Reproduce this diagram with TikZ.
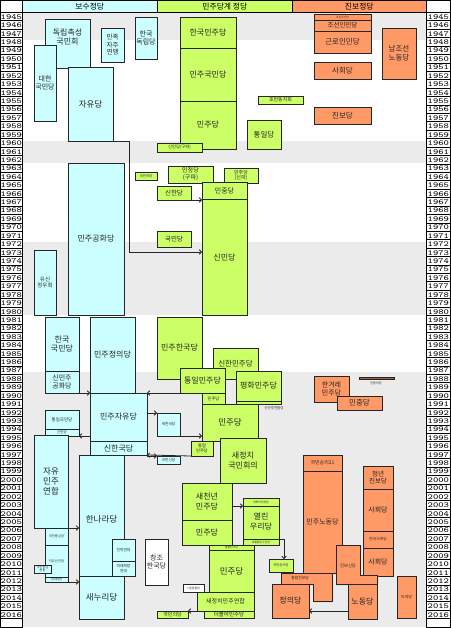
\documentclass[tikz,border=0pt]{standalone}
\usepackage{fontspec}
\setmainfont{Noto Sans CJK KR}
\newfontfamily\yearfont[FakeStretch=1.3]{Latin Modern Mono}
\usetikzlibrary{arrows.meta,shadows,calc}
\definecolor{cyanc}{HTML}{CCFFFF}
\definecolor{greenc}{HTML}{CCFF66}
\definecolor{orangec}{HTML}{FF9966}
\definecolor{bgg}{HTML}{EBEBEB}
\definecolor{brownc}{HTML}{A0603C}
\tikzset{
 pb/.style={draw=black!85, line width=0.8pt, inner sep=0pt, outer sep=0pt,
   drop shadow={shadow xshift=1pt, shadow yshift=-1pt, fill=black!40, opacity=1}},
 C/.style={pb, fill=cyanc}, G/.style={pb, fill=greenc}, O/.style={pb, fill=orangec},
 W/.style={pb, fill=white}, Bn/.style={pb, fill=brownc},
 tx/.style={inner sep=0pt, align=center, text=black!85},
 conn/.style={draw=black!85, line width=0.8pt, -{Straight Barb[length=2.2pt,width=4.5pt]}},
 hdr/.style={draw=black, line width=0.6pt, inner sep=0pt, anchor=north west, font=\fontsize{7.8}{8}\selectfont},
 ycell/.style={draw=black, line width=0.6pt, fill=white, inner sep=0pt, anchor=north west, minimum width=22, minimum height=8.42},
 ytext/.style={anchor=base west, inner sep=0pt, font=\yearfont\fontsize{7.7}{7.7}\selectfont},
}
% [text y offset]{name}{style}{font size}{x1}{y1}{x2}{y2}{text}
\newcommand\B[9][0]{%
 \node[#3, anchor=north west, minimum width={#7-#5}, minimum height={#8-#6}] (#2) at (#5,#6) {};
 \node[tx, font=\fontsize{#4}{1.15\dimexpr#4pt\relax}\selectfont] (#2t) at ($(#2.center)+(0,#1)$) {#9};}
\begin{document}
\begin{tikzpicture}[x=1pt,y=-1pt]
\useasboundingbox (0,0) rectangle (450,628);
% background bands
\fill[white] (0,0) rectangle (450,628);
\fill[bgg] (22,12) rectangle (426,40);
\fill[bgg] (22,140.7) rectangle (426,163);
\fill[bgg] (22,242) rectangle (426,315);
\fill[bgg] (22,372) rectangle (426,627);
% header
\node[hdr, fill=white, minimum width=22, minimum height=12] (h0) at (0,0) {};
\node[hdr, fill=cyanc, minimum width=135, minimum height=12] (h1) at (22,0) {보수정당};
\node[hdr, fill=greenc, minimum width=135, minimum height=12] (h2) at (157,0) {민주당계 정당};
\node[hdr, fill=orangec, minimum width=134, minimum height=12] (h3) at (292,0) {진보정당};
\node[hdr, fill=white, minimum width=24, minimum height=12] (h4) at (426,0) {};
% year columns
\foreach \i in {0,...,71}{
  \pgfmathsetmacro\yt{12+\i*8.42}
  \node[ycell] (yl\i) at (0,\yt) {};
  \node[ycell, minimum width=24] (yr\i) at (426,\yt) {};
}
\begin{scope}
\clip (0,12) rectangle (22,628);
\foreach \i in {0,...,71}{
  \pgfmathtruncatemacro\yy{1945+\i}
  \node[ytext] (tl\i) at (0.5,12+\i*8.42+7.3) {\yy};
}
\end{scope}
\begin{scope}
\clip (426,12) rectangle (450,628);
\foreach \i in {0,...,71}{
  \pgfmathtruncatemacro\yy{1945+\i}
  \node[ytext] (tr\i) at (427.5,12+\i*8.42+7.3) {\yy};
}
\end{scope}
\node[ycell] (ylast) at (0,618.2) {};
\node[ycell, minimum width=24] (yrlast) at (426,618.2) {};
\draw[black, line width=1pt] (0,0) rectangle (450,628);
\draw[black, line width=1pt] (22,0) -- (22,628) (426,0) -- (426,628);

% ---------- conservative (cyan) ----------
\B[-6.5]{dokrip}{C}{8}{45}{19}{90}{68}{독립촉성\\국민회}
\B{daehan}{C}{7}{34}{45}{56}{121}{대한\\국민당}
\B{minjok}{C}{6.5}{101}{28}{124}{62}{민족\\자주\\연맹}
\B{handok}{C}{7}{135}{17}{157}{59}{한국\\독립당}
\B{jayu}{C}{8.5}{68}{67}{113}{141}{자유당}
\B{gonghwa}{C}{8}{68}{163}{124}{315}{민주공화당}
\B{yusin}{C}{5.5}{34}{250}{56}{315}{유신\\정우회}
\B{hankm}{C}{8}{45}{317}{79}{371}{한국\\국민당}
\B{sinminju}{C}{7}{45}{371}{79}{393}{신민주\\공화당}
\B{minjeong}{C}{8}{90}{317}{135}{393}{민주정의당}
\B{minja}{C}{8}{90}{393}{147}{441}{민주자유당}
\B{sinhankuk}{C}{8}{90}{441}{147}{455}{신한국당}
\B{tongilkm}{C}{4.5}{45}{410}{79}{429}{통일국민당}
\B{sinmin95}{C}{3.5}{45}{429}{79}{436}{신민당}
\B{saehan}{C}{3.8}{157}{413}{180}{436}{새한국당}
\B{kmsin}{C}{3.8}{157}{456}{180}{464}{국민신당}
\B{jamin}{C}{8.5}{34}{435}{68}{528}{자유\\민주\\연합}
\B[4]{hannara}{C}{8.5}{79}{455}{124}{576}{한나라당}
\B{saenuri}{C}{8.5}{79}{576}{124}{619}{새누리당}
\B{kmjs}{C}{3.3}{45}{528}{68}{545}{국민중심당}
\B{seonjin}{C}{3.3}{45}{545}{68}{577}{자유선진당}
\B{sjtongil}{C}{2.5}{45}{577}{68}{582}{선진통일당}
\B{kmjsyh}{C}{3}{34}{565}{51}{573}{국민중심\\연합}
\B{chinbak}{C}{3.8}{112}{539}{135}{561}{친박연대}
\B{mirae}{C}{3.8}{112}{561}{135}{576}{미래희망\\연대}
\B{changjo}{W}{7}{145}{539}{168}{585}{창조\\한국당}

% ---------- democratic (green) ----------
\B{hanmin}{G}{8}{180}{17}{236}{48}{한국민주당}
\B{minkuk}{G}{8}{180}{48}{236}{101}{민주국민당}
\B{minju55}{G}{8}{180}{101}{236}{149}{민주당}
\B{guppa}{G}{4.3}{157}{143}{202}{152}{신민당(구파)}
\B{hohun}{G}{5}{258}{96}{303}{104}{호헌동지회}
\B{tongil}{G}{7.5}{247}{120}{281}{149}{통일당}
\B{kmui63}{G}{3.5}{135}{172}{157}{180}{국민의당}
\B{minjeong63}{G}{6}{168}{166}{213}{183}{민정당\\(구파)}
\B{minjoo63}{G}{5}{224}{168}{258}{183}{민주당\\(신파)}
\B{sinhan}{G}{6.5}{157}{186}{191}{200}{신한당}
\B{kukmin}{G}{6.5}{157}{231}{191}{247}{국민당}
\B{minjung}{G}{7}{202}{182}{247}{199}{민중당}
\B{sinmin}{G}{8}{202}{199}{247}{315}{신민당}
\B{minhan}{G}{8}{157}{317}{202}{379}{민주한국당}
\B{sinhanmj}{G}{7.5}{213}{348}{258}{379}{신한민주당}
\B{tongilmj}{G}{8}{180}{368}{225}{393}{통일민주당}
\B{pyeong}{G}{8}{236}{371}{281}{401}{평화민주당}
\node[G, anchor=north west, minimum width=45, minimum height=3] (sinyh) at (236,401) {};
\node[tx, font=\fontsize{3.5}{4}\selectfont] (sinyht) at (274,408) {신민주연합당};
\B{minju88}{G}{4.3}{202}{393}{225}{404}{민주당}
\B{minju91}{G}{8.5}{202}{404}{258}{441}{민주당}
\B{tonghap95}{G}{4.3}{191}{441}{213}{456}{통합\\민주당}
\B{saejeong}{G}{8}{220}{438}{266}{483}{새정치\\국민회의}
\B{saecheon}{G}{8}{182}{483}{232}{520}{새천년\\민주당}
\B{minju05}{G}{8}{182}{520}{232}{545}{민주당}
\B{yeollin}{G}{8}{243}{498}{279}{545}{열린\\우리당}
\B{gaehyeok}{G}{2.8}{243}{498}{279}{506}{개혁국민정당}
\B{daetonghap}{G}{2.8}{243}{539}{279}{545}{대통합민주신당}
\B{tonghap08}{G}{2.8}{209}{545}{254}{550}{통합민주당}
\B{minju08}{G}{8.5}{209}{550}{254}{592}{민주당}
\B{saejeongyh}{G}{6}{197}{592}{254}{611}{새정치민주연합}
\B{deobul}{G}{5.5}{204}{611}{254}{618}{더불어민주당}
\B{kmui16}{G}{5}{157}{611}{188}{618}{국민의당}
\B{kmcham}{G}{3.3}{269}{559}{293}{572}{국민참여당}
\B{simin}{W}{2.8}{183}{584}{204}{592}{시민통합당}

% ---------- progressive (orange) ----------
\B{jogong}{O}{2.8}{314}{14}{371}{20}{조선공산당}
\B{joinmin}{O}{6.5}{314}{20}{371}{31}{조선인민당}
\B{geullo}{O}{7.5}{314}{31}{371}{53}{근로인민당}
\B{namno}{O}{7.5}{382}{28}{416}{79}{남조선\\노동당}
\B{sahoe}{O}{7.5}{314}{62}{371}{79}{사회당}
\B{jinbo}{O}{7.5}{314}{107}{371}{124}{진보당}
\B{hangyeore}{O}{7}{314}{376}{349}{402}{한겨레\\민주당}
\B{minjungd}{O}{7.5}{337}{396}{382}{410}{민중당}
\node[Bn, anchor=north west, minimum width=35, minimum height=2] (minjungui) at (359,377) {};
\node[tx, font=\fontsize{3}{3.5}\selectfont] (minjunguit) at (376,383) {민중의당};
\B{kmsr}{O}{5}{303}{455}{342}{471}{국민승리21}
\B{minno}{O}{7}{303}{471}{342}{573}{민주노동당}
\B{cheong}{O}{6.5}{363}{466}{393}{489}{청년\\진보당}
\B{sahoe2}{O}{7}{363}{489}{393}{531}{사회당}
\B{hansahoe}{O}{3.8}{363}{531}{393}{548}{한국사회당}
\B{sahoe3}{O}{7}{363}{548}{393}{576}{사회당}
% L-shaped parties
\filldraw[pb, fill=orangec] (336,545) -- (360,545) -- (360,575) -- (377,575) -- (377,584) -- (336,584) -- cycle;
\node[tx, font=\fontsize{4.3}{5}\selectfont] (jinbosin) at (348,566) {진보신당};
\filldraw[pb, fill=orangec] (281,573) -- (332,573) -- (332,601) -- (313,601) -- (313,584) -- (281,584) -- cycle;
\node[tx, font=\fontsize{3.8}{4.5}\selectfont] (tonghapjb) at (300,578.5) {통합진보당};
\B{jeongui}{O}{8}{272}{584}{309}{618}{정의당}
\B{nodong}{O}{8}{348}{584}{377}{619}{노동당}
\B{noksaek}{O}{4}{397}{576}{416}{618}{녹색당}

% ---------- connectors ----------
\coordinate (j1) at (129,252);
\draw[conn] (jayu.south east) -| (j1) -- (sinmin.west |- j1);
\draw[conn] (sinhan.south east) -- (sinmin.west |- sinhan.south);
\draw[conn] (sinminju.south east) -- (minja.north west);
\draw[conn] (tongilmj.south west) -- (minja.north east);
\draw[conn] (minja.east |- saehan.north) -- (saehan.north west);
\draw[conn] (saehan.south west) -- (minju91.west |- saehan.south);
\draw[conn] (minja.west |- sinmin95.south) -- (sinmin95.south east);
\draw[conn] (tonghap95.south west) -- (sinhankuk.south east);
\draw[conn] (sinhankuk.east |- kmsin.north) -- (kmsin.north west);
\draw[conn] (jamin.south east) -- (hannara.west |- jamin.south);
\draw[conn] (sjtongil.south east) -- (saenuri.west |- sjtongil.south);
\coordinate (j2) at (0,506);
\draw[conn] (saecheon.east |- j2) -- (yeollin.west |- j2);
\coordinate (j3) at (284,539);
\draw[conn] (daetonghap.north east) -- (j3) -- (kmcham.north -| j3);
\draw[conn] (saejeongyh.south west) -- (kmui16.north east);
\coordinate (j4) at (0,611);
\draw[conn] (nodong.west |- j4) -- (jeongui.east |- j4);
\end{tikzpicture}
\end{document}
